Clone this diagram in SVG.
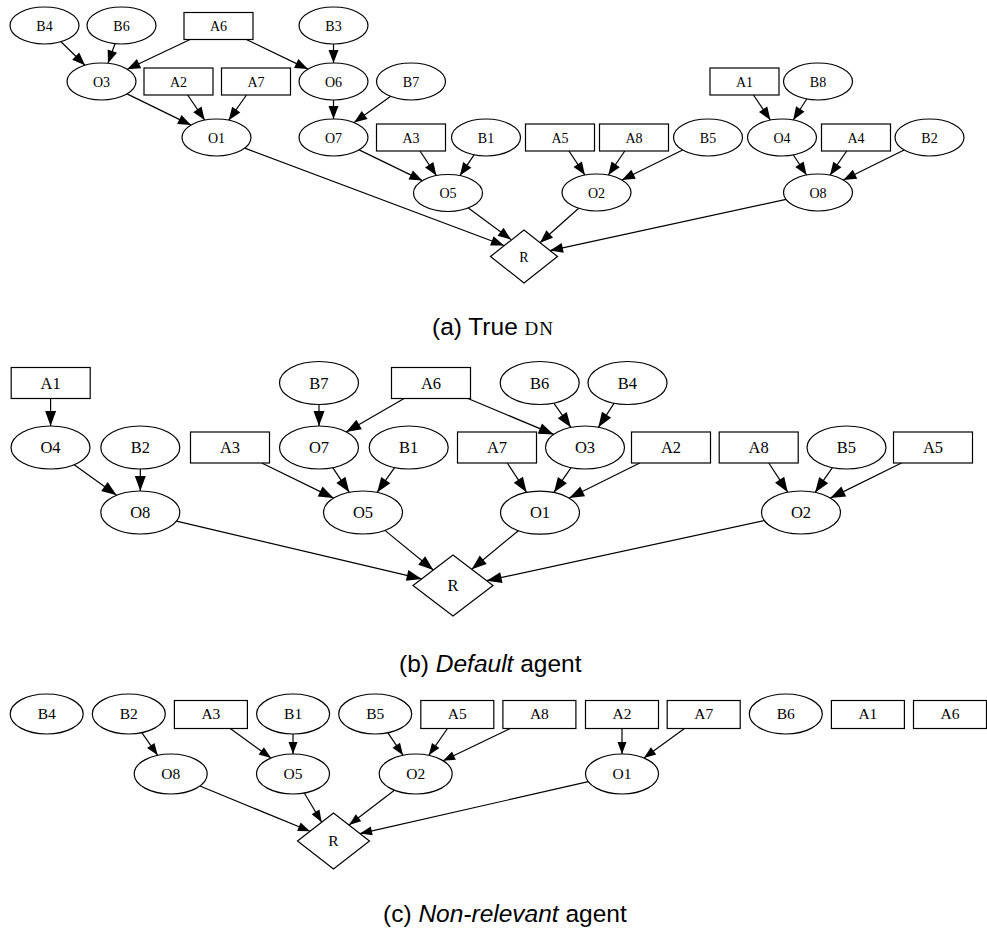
<svg xmlns="http://www.w3.org/2000/svg" width="987" height="935" viewBox="0 0 987 935">
  <style>
    .n ellipse, .n rect, .n polygon { fill: #fff; stroke: #000; stroke-width: 1.2; }
    .n text { font-family: "Liberation Serif", "Times New Roman", serif; text-anchor: middle; fill: #000; }
    .ga .n text { font-size: 14px; }
    .gb .n text { font-size: 16.5px; }
    .gc .n text { font-size: 15.5px; }
    .e line { stroke: #000; stroke-width: 1.2; fill: none; }
    .ga .e line { marker-end: url(#ah-a); }
    .gb .e line { marker-end: url(#ah-b); }
    .gc .e line { marker-end: url(#ah-c); }
    .cap { font-family: "Liberation Sans", Arial, sans-serif; font-size: 24.5px; fill: #000; }
    .it { font-style: italic; }
    .sc { font-family: "Liberation Serif", "Times New Roman", serif; font-size: 19px; letter-spacing: 1px; }
  </style>
  <defs>
    <marker id="ah-a" markerUnits="userSpaceOnUse" markerWidth="14" markerHeight="10" refX="13" refY="5" orient="auto" overflow="visible">
      <path d="M0,0 L13,5 L0,10 z" fill="#000"/>
    </marker>
    <marker id="ah-b" markerUnits="userSpaceOnUse" markerWidth="16" markerHeight="11" refX="15" refY="5.5" orient="auto" overflow="visible">
      <path d="M0,0 L15,5.5 L0,11 z" fill="#000"/>
    </marker>
    <marker id="ah-c" markerUnits="userSpaceOnUse" markerWidth="13" markerHeight="9" refX="12" refY="4.5" orient="auto" overflow="visible">
      <path d="M0,0 L12,4.5 L0,9 z" fill="#000"/>
    </marker>
  </defs>
  <rect width="987" height="935" fill="#fff"/>

  <!-- (a) -->
  <g class="ga">
    <g class="e" id="a-edges">
      <line x1="61" y1="41.7" x2="85" y2="65.3"/>
      <line x1="115" y1="43.7" x2="108" y2="63.3"/>
      <line x1="190.1" y1="39.5" x2="127.3" y2="69.2"/>
      <line x1="246.4" y1="39.5" x2="307.9" y2="69.1"/>
      <line x1="333.5" y1="44" x2="333.5" y2="63"/>
      <line x1="127" y1="93.9" x2="191" y2="125.1"/>
      <line x1="187.7" y1="95" x2="204.7" y2="120.1"/>
      <line x1="246.5" y1="95" x2="228.7" y2="120.2"/>
      <line x1="333.5" y1="100" x2="333.5" y2="119"/>
      <line x1="390.4" y1="96.4" x2="354.1" y2="122.6"/>
      <line x1="359.1" y1="149.9" x2="422.4" y2="180.6"/>
      <line x1="420" y1="151" x2="436.4" y2="175.6"/>
      <line x1="474.1" y1="154.9" x2="459.9" y2="175.6"/>
      <line x1="569" y1="151" x2="584.9" y2="175.1"/>
      <line x1="624.8" y1="151" x2="608.3" y2="175.1"/>
      <line x1="682.6" y1="150" x2="621.9" y2="180"/>
      <line x1="753.5" y1="95" x2="770.4" y2="120.1"/>
      <line x1="806.8" y1="99" x2="793.2" y2="120"/>
      <line x1="793.4" y1="155" x2="806.6" y2="175"/>
      <line x1="846.7" y1="151" x2="830" y2="175.2"/>
      <line x1="904.1" y1="150" x2="843.4" y2="180"/>
      <line x1="244.8" y1="148.1" x2="504" y2="245.5"/>
      <line x1="468.3" y1="208" x2="511" y2="239.5"/>
      <line x1="578.7" y1="208.3" x2="540" y2="242.7"/>
      <line x1="786" y1="199.4" x2="550" y2="250.6"/>
    </g>
    <g class="n" id="a-B4"><ellipse cx="44.5" cy="25.5" rx="34.5" ry="18.5"/><text x="44.5" y="30.5">B4</text></g>
    <g class="n" id="a-B6"><ellipse cx="121.5" cy="25.5" rx="34.5" ry="18.5"/><text x="121.5" y="30.5">B6</text></g>
    <g class="n" id="a-A6"><rect x="184" y="12.5" width="69" height="27"/><text x="218.5" y="31">A6</text></g>
    <g class="n" id="a-B3"><ellipse cx="333.5" cy="25.5" rx="34.5" ry="18.5"/><text x="333.5" y="30.5">B3</text></g>
    <g class="n" id="a-O3"><ellipse cx="101.5" cy="81.5" rx="34.5" ry="18.5"/><text x="101.5" y="86.5">O3</text></g>
    <g class="n" id="a-A2"><rect x="144" y="68" width="69" height="27"/><text x="178.5" y="86.5">A2</text></g>
    <g class="n" id="a-A7"><rect x="221.5" y="68" width="69" height="27"/><text x="256" y="86.5">A7</text></g>
    <g class="n" id="a-O6"><ellipse cx="333.5" cy="81.5" rx="34.5" ry="18.5"/><text x="333.5" y="86.5">O6</text></g>
    <g class="n" id="a-B7"><ellipse cx="411" cy="81.5" rx="34.5" ry="18.5"/><text x="411" y="86.5">B7</text></g>
    <g class="n" id="a-A1"><rect x="710" y="68" width="69" height="27"/><text x="744.5" y="86.5">A1</text></g>
    <g class="n" id="a-B8"><ellipse cx="818" cy="81.5" rx="34.5" ry="18.5"/><text x="818" y="86.5">B8</text></g>
    <g class="n" id="a-O1"><ellipse cx="216.5" cy="137.5" rx="34.5" ry="18.5"/><text x="216.5" y="142.5">O1</text></g>
    <g class="n" id="a-O7"><ellipse cx="333.5" cy="137.5" rx="34.5" ry="18.5"/><text x="333.5" y="142.5">O7</text></g>
    <g class="n" id="a-A3"><rect x="376.5" y="124" width="69" height="27"/><text x="411" y="142.5">A3</text></g>
    <g class="n" id="a-B1"><ellipse cx="486" cy="137.5" rx="34.5" ry="18.5"/><text x="486" y="142.5">B1</text></g>
    <g class="n" id="a-A5"><rect x="525.5" y="124" width="69" height="27"/><text x="560" y="142.5">A5</text></g>
    <g class="n" id="a-A8"><rect x="599.5" y="124" width="69" height="27"/><text x="634" y="142.5">A8</text></g>
    <g class="n" id="a-B5"><ellipse cx="708" cy="137.5" rx="34.5" ry="18.5"/><text x="708" y="142.5">B5</text></g>
    <g class="n" id="a-O4"><ellipse cx="782" cy="137.5" rx="34.5" ry="18.5"/><text x="782" y="142.5">O4</text></g>
    <g class="n" id="a-A4"><rect x="821.5" y="124" width="69" height="27"/><text x="856" y="142.5">A4</text></g>
    <g class="n" id="a-B2"><ellipse cx="929.5" cy="137.5" rx="34.5" ry="18.5"/><text x="929.5" y="142.5">B2</text></g>
    <g class="n" id="a-O5"><ellipse cx="448" cy="193" rx="34.5" ry="18.5"/><text x="448" y="198">O5</text></g>
    <g class="n" id="a-O2"><ellipse cx="596.5" cy="192.5" rx="34.5" ry="18.5"/><text x="596.5" y="197.5">O2</text></g>
    <g class="n" id="a-O8"><ellipse cx="818" cy="192.5" rx="34.5" ry="18.5"/><text x="818" y="197.5">O8</text></g>
    <g class="n" id="a-R"><polygon points="490.5,256.5 524,230 557.5,256.5 524,283"/><text x="524" y="261.5">R</text></g>
  </g>
  <text class="cap" x="432" y="335">(a) True <tspan class="sc">DN</tspan></text>

  <!-- (b) -->
  <g class="gb">
    <g class="e" id="b-edges">
      <line x1="50.6" y1="398.5" x2="50.6" y2="426"/>
      <line x1="319" y1="404.5" x2="319" y2="426"/>
      <line x1="404.1" y1="398.5" x2="346.1" y2="431.9"/>
      <line x1="468" y1="398.5" x2="553.7" y2="434.4"/>
      <line x1="553.8" y1="403.1" x2="570.9" y2="427.4"/>
      <line x1="614.2" y1="403.2" x2="598.3" y2="427.3"/>
      <line x1="74.2" y1="464.7" x2="116.6" y2="495.3"/>
      <line x1="140.3" y1="469" x2="140.3" y2="491"/>
      <line x1="261.7" y1="463" x2="333.6" y2="498.1"/>
      <line x1="332.7" y1="467.7" x2="349.3" y2="492.3"/>
      <line x1="394.6" y1="467.6" x2="377.1" y2="492.4"/>
      <line x1="507.3" y1="463" x2="526.6" y2="492.3"/>
      <line x1="571.1" y1="467.6" x2="553.9" y2="492.4"/>
      <line x1="639.8" y1="463" x2="569.2" y2="498"/>
      <line x1="768.8" y1="463" x2="787.8" y2="492.2"/>
      <line x1="832.4" y1="467.6" x2="815.1" y2="492.4"/>
      <line x1="901.5" y1="463" x2="830.3" y2="498.1"/>
      <line x1="176.5" y1="521.1" x2="421.7" y2="578.9"/>
      <line x1="384.9" y1="530.4" x2="433.3" y2="570"/>
      <line x1="518.3" y1="530.7" x2="471.7" y2="569.3"/>
      <line x1="764.3" y1="520.5" x2="486.7" y2="580.7"/>
    </g>
    <g class="n" id="b-A1"><rect x="11.2" y="367.5" width="79" height="31"/><text x="50.7" y="388.5">A1</text></g>
    <g class="n" id="b-B7"><ellipse cx="319" cy="383" rx="39.5" ry="21.5"/><text x="319" y="388.5">B7</text></g>
    <g class="n" id="b-A6"><rect x="391.5" y="367.5" width="79" height="31"/><text x="431" y="388.5">A6</text></g>
    <g class="n" id="b-B6"><ellipse cx="539.7" cy="383" rx="39.5" ry="21.5"/><text x="539.7" y="388.5">B6</text></g>
    <g class="n" id="b-B4"><ellipse cx="627.5" cy="383" rx="39.5" ry="21.5"/><text x="627.5" y="388.5">B4</text></g>
    <g class="n" id="b-O4"><ellipse cx="50.5" cy="447.5" rx="39.5" ry="21.5"/><text x="50.5" y="453">O4</text></g>
    <g class="n" id="b-B2"><ellipse cx="140.3" cy="447.5" rx="39.5" ry="21.5"/><text x="140.3" y="453">B2</text></g>
    <g class="n" id="b-A3"><rect x="190.5" y="432" width="79" height="31"/><text x="230" y="453">A3</text></g>
    <g class="n" id="b-O7"><ellipse cx="319" cy="447.5" rx="39.5" ry="21.5"/><text x="319" y="453">O7</text></g>
    <g class="n" id="b-B1"><ellipse cx="408.7" cy="447.5" rx="39.5" ry="21.5"/><text x="408.7" y="453">B1</text></g>
    <g class="n" id="b-A7"><rect x="457.5" y="432" width="79" height="31"/><text x="497" y="453">A7</text></g>
    <g class="n" id="b-O3"><ellipse cx="585" cy="447.5" rx="39.5" ry="21.5"/><text x="585" y="453">O3</text></g>
    <g class="n" id="b-A2"><rect x="631.5" y="432" width="79" height="31"/><text x="671" y="453">A2</text></g>
    <g class="n" id="b-A8"><rect x="719.2" y="432" width="79" height="31"/><text x="758.7" y="453">A8</text></g>
    <g class="n" id="b-B5"><ellipse cx="846.5" cy="447.5" rx="39.5" ry="21.5"/><text x="846.5" y="453">B5</text></g>
    <g class="n" id="b-A5"><rect x="893.5" y="432" width="79" height="31"/><text x="933" y="453">A5</text></g>
    <g class="n" id="b-O8"><ellipse cx="140.3" cy="512.5" rx="39.5" ry="21.5"/><text x="140.3" y="518">O8</text></g>
    <g class="n" id="b-O5"><ellipse cx="363" cy="512.5" rx="39.5" ry="21.5"/><text x="363" y="518">O5</text></g>
    <g class="n" id="b-O1"><ellipse cx="540" cy="512.7" rx="39.5" ry="21.5"/><text x="540" y="518.2">O1</text></g>
    <g class="n" id="b-O2"><ellipse cx="801" cy="512.5" rx="39.5" ry="21.5"/><text x="801" y="518">O2</text></g>
    <g class="n" id="b-R"><polygon points="413,585.5 453,555 493,585.5 453,616"/><text x="453" y="591">R</text></g>
  </g>
  <text class="cap" x="399" y="672">(b) <tspan class="it">Default</tspan> agent</text>

  <!-- (c) -->
  <g class="gc">
    <g class="e" id="c-edges">
      <line x1="141.8" y1="732.7" x2="157.7" y2="755.3"/>
      <line x1="230.2" y1="728.5" x2="271" y2="758"/>
      <line x1="293" y1="734" x2="293" y2="754"/>
      <line x1="387.9" y1="732.8" x2="403" y2="755.2"/>
      <line x1="447.5" y1="728.5" x2="428.8" y2="755.3"/>
      <line x1="510.3" y1="728.5" x2="443.1" y2="760.8"/>
      <line x1="622" y1="728.5" x2="622" y2="754"/>
      <line x1="684.5" y1="728.5" x2="643.9" y2="758"/>
      <line x1="199.9" y1="786" x2="310" y2="831.3"/>
      <line x1="304.3" y1="793" x2="321.7" y2="822.2"/>
      <line x1="394.4" y1="790.3" x2="349" y2="825"/>
      <line x1="588.3" y1="781.7" x2="360" y2="833.6"/>
    </g>
    <g class="n" id="c-B4"><ellipse cx="46.7" cy="714" rx="36.5" ry="20"/><text x="46.7" y="719.2">B4</text></g>
    <g class="n" id="c-B2"><ellipse cx="128.8" cy="714" rx="36.5" ry="20"/><text x="128.8" y="719.2">B2</text></g>
    <g class="n" id="c-A3"><rect x="174.4" y="700.5" width="73" height="28"/><text x="210.9" y="719.2">A3</text></g>
    <g class="n" id="c-B1"><ellipse cx="293.1" cy="714" rx="36.5" ry="20"/><text x="293.1" y="719.2">B1</text></g>
    <g class="n" id="c-B5"><ellipse cx="375.2" cy="714" rx="36.5" ry="20"/><text x="375.2" y="719.2">B5</text></g>
    <g class="n" id="c-A5"><rect x="420.8" y="700.5" width="73" height="28"/><text x="457.3" y="719.2">A5</text></g>
    <g class="n" id="c-A8"><rect x="502.9" y="700.5" width="73" height="28"/><text x="539.4" y="719.2">A8</text></g>
    <g class="n" id="c-A2"><rect x="585.5" y="700.5" width="73" height="28"/><text x="622" y="719.2">A2</text></g>
    <g class="n" id="c-A7"><rect x="667.2" y="700.5" width="73" height="28"/><text x="703.7" y="719.2">A7</text></g>
    <g class="n" id="c-B6"><ellipse cx="785.8" cy="714" rx="36.5" ry="20"/><text x="785.8" y="719.2">B6</text></g>
    <g class="n" id="c-A1"><rect x="831.4" y="700.5" width="73" height="28"/><text x="867.9" y="719.2">A1</text></g>
    <g class="n" id="c-A6"><rect x="913.5" y="700.5" width="73" height="28"/><text x="950" y="719.2">A6</text></g>
    <g class="n" id="c-O8"><ellipse cx="170.7" cy="774" rx="36.5" ry="20"/><text x="170.7" y="779.2">O8</text></g>
    <g class="n" id="c-O5"><ellipse cx="293" cy="774" rx="36.5" ry="20"/><text x="293" y="779.2">O5</text></g>
    <g class="n" id="c-O2"><ellipse cx="415.7" cy="774" rx="36.5" ry="20"/><text x="415.7" y="779.2">O2</text></g>
    <g class="n" id="c-O1"><ellipse cx="622" cy="774" rx="36.5" ry="20"/><text x="622" y="779.2">O1</text></g>
    <g class="n" id="c-R"><polygon points="297.5,841 333.5,813 369.5,841 333.5,869"/><text x="333.5" y="846.2">R</text></g>
  </g>
  <text class="cap" x="383" y="922">(c) <tspan class="it">Non-relevant</tspan> agent</text>
</svg>
